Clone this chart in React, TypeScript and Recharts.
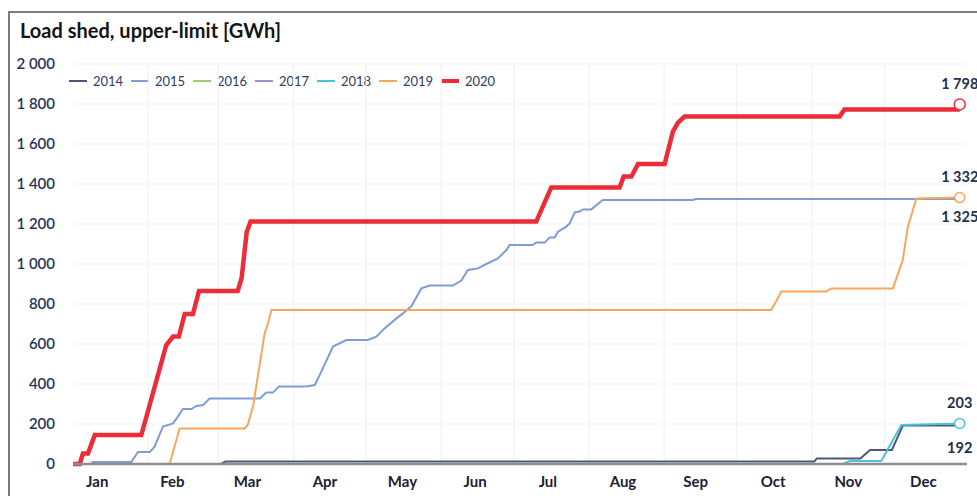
import { LineChart, Line, XAxis, YAxis, CartesianGrid, ReferenceLine, ReferenceDot } from 'recharts';

// day of year (0 = 1 Jan) / cumulative GWh
const s2014: [number, number][] = [
  [0, 0], [61, 0], [63, 12], [306, 12], [307, 28], [325, 28], [329, 70], [338, 70], [342.5, 192], [366, 192],
];
const s2015: [number, number][] = [
  [7.6, 10], [24.1, 10], [26.8, 60], [31.7, 60], [33.7, 87], [37.1, 187], [41.3, 203], [43.3, 237], [45.4, 275],
  [48.9, 275], [50.9, 290], [53.7, 295], [56.4, 328], [77.1, 328], [79.8, 357], [82.5, 357], [85, 387], [96.3, 387],
  [99.8, 395], [102.5, 462], [107.3, 587], [112.8, 620], [121.7, 620], [125.2, 637], [128.6, 678], [133.5, 728],
  [136.2, 753], [139.7, 790], [143.8, 878], [147.2, 892], [156.8, 892], [160.3, 917], [163, 970], [167.1, 978],
  [170.6, 1000], [175.4, 1028], [178.9, 1070], [180.2, 1095], [189.7, 1095], [191.2, 1107], [194.7, 1107],
  [196.7, 1133], [198.8, 1133], [200.2, 1162], [203.6, 1187], [205, 1203], [207.1, 1258], [209.1, 1262],
  [210.5, 1273], [213.9, 1273], [218.7, 1320], [255.9, 1320], [257, 1325], [366, 1325],
];
const s2016: [number, number][] = [[0, 0], [366, 0]];
const s2017: [number, number][] = [[0, 0], [366, 0]];
const s2018: [number, number][] = [
  [0, 0], [318, 0], [320.5, 15], [333.6, 15], [341.9, 195], [366, 203],
];
const s2019: [number, number][] = [
  [0, 0], [39.9, 0], [44, 178], [70.9, 178], [72.1, 195], [74.3, 287], [79.1, 653], [80.5, 703], [81.9, 770],
  [288.2, 770], [292.4, 862], [310.9, 862], [313, 878], [338.4, 878], [342.5, 1020], [344.6, 1187], [348.1, 1328],
  [366, 1332],
];
const s2020: [number, number][] = [
  [0, 0], [2.8, 0], [4.1, 53], [6.2, 53], [9, 145], [28.2, 145], [38.5, 595], [41.3, 637], [43.7, 637], [46.1, 750],
  [49.5, 750], [52, 865], [68, 865], [69.6, 930], [71.7, 1160], [73.3, 1212], [191.2, 1212], [197.4, 1383],
  [225.6, 1383], [227.3, 1437], [230.5, 1437], [233.2, 1500], [244.2, 1500], [247.6, 1662], [249.7, 1707],
  [252.4, 1737], [316.4, 1737], [318.4, 1772], [366, 1772],
];

const years = ['2014', '2015', '2016', '2017', '2018', '2019', '2020'];
const seriesData = [s2014, s2015, s2016, s2017, s2018, s2019, s2020];
const colors = ['#4b5878', '#7f9dd2', '#9ccf6a', '#9d8dcc', '#4fc1dc', '#f8a65a', '#ec2d39'];
const widths = [2, 2, 2, 2, 2, 2, 4.5];

const months = ['Jan', 'Feb', 'Mar', 'Apr', 'May', 'Jun', 'Jul', 'Aug', 'Sep', 'Oct', 'Nov', 'Dec'];
const monthLabelDays = [10, 41, 72, 104, 136, 166, 196, 227, 257, 289, 320, 351];
const monthStartDays = [31, 60, 91, 121, 152, 182, 213, 244, 274, 305, 335];
const yTicks = [0, 200, 400, 600, 800, 1000, 1200, 1400, 1600, 1800, 2000];

const endDay = 366;
const end2020 = 1798;
const end2019 = 1332;
const end2015 = 1325;
const end2018 = 203;
const end2014 = 192;

const FONT = 'Lato, "Open Sans", sans-serif';
const fmt = (v: number) => String(v).replace(/\B(?=(\d{3})+(?!\d))/g, ' ');

function EndLabel({ viewBox, text, dy }: any) {
  const cx = viewBox.x + viewBox.width / 2;
  const cy = viewBox.y + viewBox.height / 2;
  return (
    <text x={cx} y={cy + dy} textAnchor="middle" dominantBaseline="central"
      fontFamily={FONT} fontWeight={700} fontSize={14.5} fill="#22304f">
      {text}
    </text>
  );
}

function LegendRow() {
  return (
    <div style={{ position: 'absolute', left: 59, top: 60, display: 'flex', fontFamily: FONT, fontSize: 13, color: '#2f3c63' }}>
      {years.map((y, i) => (
        <div key={y} style={{ width: 62, display: 'flex', alignItems: 'center', height: 16 }}>
          <span style={{ display: 'inline-block', width: 18, height: i === 6 ? 4 : 2.5, background: colors[i], marginRight: 6 }} />
          <span>{y}</span>
        </div>
      ))}
    </div>
  );
}

export default function App() {
  return (
    <div style={{ position: 'fixed', left: 8, top: 11, width: 969, height: 485, overflow: 'hidden', borderLeft: '2px solid #7c7c7c', borderTop: '2px solid #7c7c7c', background: '#fff' }}>
      <div style={{ position: 'absolute', left: 10, top: 5, fontFamily: FONT, fontWeight: 700, fontSize: 20, color: '#151515' }}>
        Load shed, upper-limit [GWh]
      </div>
      <LegendRow />
      <LineChart width={967} height={483} margin={{ top: 51, right: 10, left: 0, bottom: 0 }} style={{ overflow: 'visible' }}>
        <CartesianGrid vertical={false} stroke="#f0f2f6" strokeWidth={1.2} />
        {monthStartDays.map((d) => (
          <ReferenceLine key={d} x={d} stroke="#f0f2f6" strokeWidth={1.2} />
        ))}
        <XAxis
          type="number"
          dataKey="day"
          domain={[0, 369]}
          ticks={monthLabelDays}
          tickFormatter={(v: number) => months[monthLabelDays.indexOf(v)]}
          height={32}
          tickSize={0}
          tickMargin={12}
          axisLine={{ stroke: '#8d8d8d', strokeWidth: 2.5 }}
          tick={{ fontFamily: FONT, fontWeight: 700, fontSize: 15, fill: '#1c2133' }}
        />
        <YAxis
          type="number"
          domain={[0, 2000]}
          ticks={yTicks}
          width={63}
          tickSize={0}
          tickMargin={18}
          axisLine={false}
          tickFormatter={fmt}
          tick={{ fontFamily: FONT, fontWeight: 600, fontSize: 15, fill: '#26345a' }}
        />
        {seriesData.map((s, i) => (
          <Line
            key={years[i]}
            data={s.map(([day, v]) => ({ day, v }))}
            dataKey="v"
            type="linear"
            stroke={colors[i]}
            strokeWidth={widths[i]}
            dot={false}
            isAnimationActive={false}
          />
        ))}
        <ReferenceDot x={endDay} y={end2020} r={5.5} fill="#fff" stroke={colors[6]} strokeWidth={1.5} ifOverflow="visible"
          label={(p: any) => <EndLabel {...p} text={fmt(end2020)} dy={-21} />} />
        <ReferenceDot x={endDay} y={end2019} r={5} fill="#fff" stroke={colors[5]} strokeWidth={1.5} ifOverflow="visible"
          label={(p: any) => <EndLabel {...p} text={fmt(end2019)} dy={-21} />} />
        <ReferenceDot x={endDay} y={end2015} r={0} fill="none" stroke="none" ifOverflow="visible"
          label={(p: any) => <EndLabel {...p} text={fmt(end2015)} dy={17} />} />
        <ReferenceDot x={endDay} y={end2018} r={5} fill="#fff" stroke={colors[4]} strokeWidth={1.5} ifOverflow="visible"
          label={(p: any) => <EndLabel {...p} text={fmt(end2018)} dy={-21} />} />
        <ReferenceDot x={endDay} y={end2014} r={0} fill="none" stroke="none" ifOverflow="visible"
          label={(p: any) => <EndLabel {...p} text={fmt(end2014)} dy={22} />} />
      </LineChart>
    </div>
  );
}
